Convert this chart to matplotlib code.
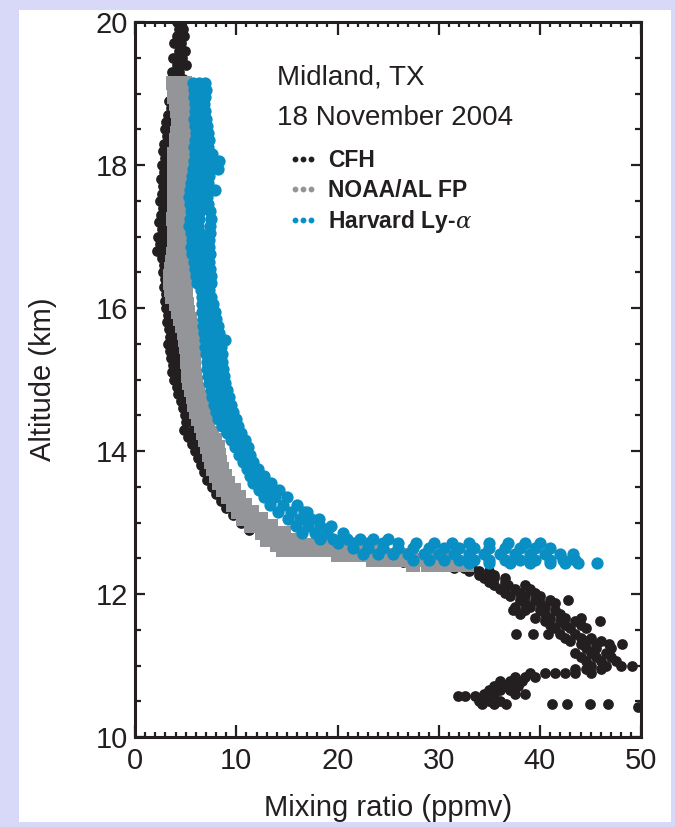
import matplotlib
matplotlib.use("Agg")
import matplotlib.pyplot as plt
from matplotlib.lines import Line2D
from matplotlib.patches import Rectangle
import numpy as np

# ---- data: altitude rows (km) and mixing ratios (ppmv) ----
cfh_levels = [20.0, 19.9, 19.8, 19.7, 19.6, 19.5, 19.4, 19.3, 19.2, 19.1,
              19.0, 18.9, 18.8, 18.7, 18.6, 18.5, 18.4, 18.3, 18.2, 18.1,
              18.0, 17.9, 17.8, 17.7, 17.6, 17.5, 17.4, 17.3, 17.2, 17.1,
              17.0, 16.9, 16.8, 16.7, 16.6, 16.5, 16.4, 16.3, 16.2, 16.1,
              16.0, 15.9, 15.8, 15.7, 15.6, 15.5, 15.4, 15.3, 15.2, 15.1,
              15.0, 14.9, 14.8, 14.7, 14.6, 14.5, 14.4, 14.3, 14.2, 14.1,
              14.0, 13.9, 13.8, 13.7, 13.6, 13.5, 13.4, 13.3, 13.2, 13.1,
              13.0, 12.9, 12.8, 12.7, 12.6, 12.55, 12.5, 12.45, 12.4,
              12.37, 12.32, 12.27, 12.22, 12.17, 12.12, 12.07, 12.02, 11.97, 11.92,
              11.87, 11.82, 11.77, 11.72, 11.67, 11.62, 11.57, 11.52, 11.44, 11.39,
              11.34, 11.3, 11.24, 11.18, 11.12, 11.06, 11.0, 10.95, 10.89, 10.84,
              10.78, 10.72, 10.66, 10.6, 10.57, 10.51, 10.46, 10.42]
cfh_values = [[4.1, 4.5], [4.3, 4.7], [4.1, 4.8], [3.9, 4.5], [4.3, 4.9],
              [3.8, 4.6], [4.1, 5.0], [3.7, 4.3], [3.9, 4.7], [3.6, 4.1],
              [3.7, 4.4], [3.4, 3.8], [3.6, 4.0], [3.3, 3.5], [3.1, 3.7],
              [3.0, 3.3], [3.2, 3.6], [2.9, 3.2], [2.8, 3.4], [3.0, 3.1],
              [2.7, 3.3], [2.9, 3.5], [2.6, 3.0], [2.8, 3.4], [2.7, 3.2],
              [2.5, 3.1], [2.8, 3.3], [2.6, 2.9], [2.4, 3.2], [2.7, 3.0],
              [2.3, 3.1], [2.5, 2.8], [2.2, 2.9], [2.7, 3.2], [2.9, 3.3],
              [2.8, 3.5], [3.0, 3.2], [2.9, 3.4], [3.1, 3.5], [3.0, 3.7],
              [3.1, 3.6], [3.3, 3.8], [3.2, 3.7], [3.4, 3.9], [3.5, 4.0],
              [3.3, 4.1], [3.5, 4.2], [3.6, 4.1], [3.8, 4.3], [3.7, 4.4],
              [3.9, 4.5], [4.1, 4.6], [4.2, 4.8], [4.5, 5.0], [4.7, 5.2],
              [4.9, 5.5], [5.0, 5.6], [4.8, 5.7], [5.2, 5.9], [5.6, 6.1],
              [5.9, 6.4], [6.2, 6.6], [6.5, 6.9], [6.8, 7.1], [7.1, 7.5],
              [7.6], [8.0], [8.5], [9.0], [9.7],
              [10.5], [11.3], [13.0], [15.0, 16.5], [17.5, 19.5],
              [20.5, 22.5], [23.5, 25.5], [26.5, 28.5], [29.0, 30.5],
              [31.5, 32.5, 33.3], [33.0, 34.0, 35.0], [34.0, 35.5], [34.5, 35.5, 36.5],
              [35.0, 36.5], [35.5, 36.8, 38.5], [36.0, 37.5, 39.0], [36.5, 38.0, 39.5],
              [37.0, 38.5, 40.0], [38.0, 39.5, 41.0, 42.8], [38.5, 40.0, 41.5],
              [37.5, 39.0, 40.5], [37.3, 38.5, 40.0, 41.5], [38.0, 40.5, 42.0],
              [39.5, 41.0, 42.5, 44.0], [40.5, 42.0, 43.5, 45.9], [41.0, 42.5, 44.0],
              [41.5, 43.0, 44.5], [37.6, 39.3, 40.8, 42.0, 43.5], [42.5, 44.0, 45.0],
              [43.0, 44.5, 46.0], [44.0, 45.5, 46.8, 48.1], [44.5, 45.5, 47.0],
              [43.5, 45.0, 46.5], [44.0, 45.5, 47.0], [44.5, 46.0, 47.5],
              [45.0, 46.5, 48.0, 49.1], [43.5, 44.5, 46.0],
              [39.0, 40.5, 41.5, 42.5, 43.5, 45.0], [37.5, 38.5, 39.5],
              [36.0, 37.0, 38.2], [35.5, 36.5, 37.8], [35.0, 36.0, 37.0],
              [34.5, 35.5, 37.5, 38.5], [31.9, 32.6, 33.6], [34.0, 35.0, 36.0],
              [34.3, 35.5, 36.6, 41.2, 42.7, 44.9, 46.7], [49.7]]

noaa_levels = [19.15, 19.05, 18.95, 18.85, 18.75, 18.65, 18.55, 18.45, 18.35, 18.25,
               18.15, 18.05, 17.95, 17.85, 17.75, 17.65, 17.55, 17.45, 17.35, 17.25,
               17.15, 17.05, 16.95, 16.85, 16.75, 16.65, 16.55, 16.45, 16.35, 16.25,
               16.15, 16.05, 15.95, 15.85, 15.75, 15.65, 15.55, 15.45, 15.35, 15.25,
               15.15, 15.05, 14.95, 14.85, 14.75, 14.65, 14.55, 14.45, 14.35, 14.25,
               14.15, 14.05, 13.95, 13.85, 13.75, 13.65, 13.55, 13.45, 13.35, 13.25,
               13.15, 13.05, 12.95, 12.85, 12.75, 12.68, 12.61, 12.54, 12.47, 12.4]
noaa_values = [[3.8, 4.4, 4.9], [3.9, 4.4, 4.9], [3.9, 4.4, 4.8], [4.0, 4.5, 4.9],
               [4.1, 4.5, 5.0], [4.2, 4.6, 4.9], [4.2, 4.6, 5.0], [4.1, 4.6, 5.1],
               [4.0, 4.6, 5.2], [4.0, 4.6, 5.2], [3.9, 4.6, 5.3], [3.9, 4.6, 5.3],
               [3.9, 4.5, 5.2], [4.0, 4.5, 5.1], [3.9, 4.5, 5.1], [3.9, 4.4, 5.0],
               [3.9, 4.4, 5.0], [3.9, 4.4, 5.0], [3.9, 4.4, 5.0], [3.8, 4.4, 5.0],
               [3.9, 4.4, 5.0], [3.9, 4.4, 4.9], [3.9, 4.4, 4.9], [3.9, 4.4, 4.9],
               [3.8, 4.3, 4.9], [3.7, 4.2, 4.8], [3.6, 4.2, 4.8], [3.5, 4.1, 4.8],
               [3.5, 4.1, 4.9], [3.6, 4.3, 5.0], [3.7, 4.4, 5.0],
               [4.0, 4.5, 5.1], [4.2, 4.7, 5.2], [4.4, 4.9, 5.4], [4.6, 5.0, 5.5],
               [4.8, 5.2, 5.6], [4.9, 5.3, 5.7], [5.0, 5.3, 5.7], [5.1, 5.4, 5.8],
               [5.1, 5.4, 5.8], [5.2, 5.5, 5.8], [5.2, 5.5, 5.9], [5.3, 5.6, 6.0],
               [5.5, 5.8, 6.2], [5.7, 6.0, 6.4], [5.8, 6.2, 6.6], [6.0, 6.4, 6.8],
               [6.2, 6.6, 7.0], [6.5, 6.8, 7.2], [6.7, 7.1, 7.6], [6.9, 7.4, 7.9],
               [7.1, 7.6, 8.2], [7.3, 7.8, 8.3], [7.5, 7.9, 8.4], [7.7, 8.1, 8.6],
               [8.0, 8.4, 8.9], [8.3, 8.7, 9.2], [8.7, 9.2, 9.8], [9.2, 9.7, 10.3],
               [9.7, 10.3, 10.9], [10.2, 10.9, 11.6], [10.7, 11.6, 12.4],
               [11.5, 12.4, 13.4], [12.5, 13.6, 14.7], [13.0, 14.2, 15.4],
               [14.0, 15.4, 16.8, 18.2, 19.6],
               [14.6, 16.0, 17.4, 18.8, 20.2, 21.6, 23.0, 24.4],
               [20.0, 21.4, 22.8, 24.2, 25.6, 27.0],
               [23.5, 24.9, 26.3, 27.7, 29.1, 30.5],
               [27.5, 28.9, 30.3, 31.7, 32.8]]

harv_levels = [19.15, 19.05, 18.95, 18.85, 18.75, 18.65, 18.55, 18.45, 18.35, 18.25,
               18.15, 18.05, 17.95, 17.85, 17.75, 17.65, 17.55, 17.45, 17.35, 17.25,
               17.15, 17.05, 16.95, 16.85, 16.75, 16.65, 16.55, 16.45, 16.35, 16.25,
               16.15, 16.05, 15.95, 15.85, 15.75, 15.65, 15.55, 15.45, 15.35, 15.25,
               15.15, 15.05, 14.95, 14.85, 14.75, 14.65, 14.55, 14.45, 14.35, 14.25,
               14.15, 14.05, 13.95, 13.85, 13.75, 13.65, 13.55, 13.45, 13.35, 13.25,
               13.15, 13.05, 12.95, 12.85, 12.77, 12.72, 12.64, 12.56, 12.48, 12.43]
harv_values = [[5.7, 6.3, 6.9], [5.8, 6.4, 7.0], [5.8, 6.4, 6.9], [5.9, 6.4, 6.8],
               [5.9, 6.5, 6.9], [5.8, 6.4, 7.0], [5.9, 6.5, 7.1], [6.0, 6.6, 7.2],
               [5.9, 6.6, 7.3], [5.8, 6.5, 7.2], [5.9, 6.8, 7.6], [5.8, 6.8, 7.9, 8.3],
               [5.7, 6.6, 7.5, 8.2], [5.6, 6.5, 7.3], [5.5, 6.4, 7.2], [5.4, 6.3, 7.3, 7.9],
               [5.3, 6.2, 7.1], [5.4, 6.3, 7.2], [5.5, 6.4, 7.4], [5.4, 6.3, 7.5],
               [5.3, 6.2, 7.4], [5.5, 6.4, 7.4], [5.6, 6.4, 7.3], [5.5, 6.4, 7.3],
               [5.6, 6.5, 7.4], [5.8, 6.6, 7.3], [5.9, 6.6, 7.4], [6.0, 6.7, 7.5],
               [6.1, 6.8, 7.5], [6.5, 7.0, 7.3],
               [6.6, 7.0, 7.5], [6.6, 7.1, 7.7], [6.6, 7.2, 7.9], [6.7, 7.3, 8.0],
               [6.7, 7.4, 8.2], [6.8, 7.5, 8.3], [6.9, 7.6, 8.4, 8.9], [6.9, 7.7, 8.5],
               [7.0, 7.8, 8.6], [7.1, 7.8, 8.6], [7.1, 7.9, 8.7], [7.2, 8.0, 8.8],
               [7.3, 8.1, 8.9], [7.5, 8.3, 9.1], [7.6, 8.5, 9.3], [7.8, 8.7, 9.5],
               [8.0, 8.9, 9.7], [8.2, 9.1, 10.0], [8.6, 9.4, 10.2], [9.1, 9.8, 10.5],
               [9.5, 10.2, 10.9], [9.9, 10.6, 11.2], [10.3, 10.9, 11.4], [10.7, 11.2, 11.7],
               [11.1, 11.6, 12.1], [11.4, 12.0, 12.7], [11.7, 12.5, 13.4], [12.2, 13.1, 14.2],
               [12.7, 13.8, 15.0], [13.3, 14.6, 16.0], [14.1, 15.4, 16.7, 17.0],
               [15.1, 16.3, 17.4, 18.2], [15.9, 17.1, 18.3, 19.4], [16.5, 17.8, 19.0, 20.5],
               [18.3, 19.6, 20.9, 22.2, 23.5, 25.0],
               [20.0, 21.5, 23.0, 24.5, 26.0, 27.8, 29.5, 31.3, 33.0, 35.0, 36.8, 38.5, 40.0],
               [21.5, 23.0, 24.5, 26.0, 27.5, 29.0, 30.5, 32.0, 33.5, 35.0, 36.5, 38.0,
                39.5, 41.0],
               [22.5, 24.0, 25.5, 27.0, 28.5, 30.0, 31.5, 33.0, 34.5, 36.0, 37.5, 39.0,
                40.5, 42.0, 43.3],
               [27.5, 29.0, 30.5, 32.0, 33.5, 35.0, 36.5, 38.0, 39.5, 41.0, 42.3, 43.5],
               [33.0, 35.0, 37.0, 39.0, 41.0, 42.5, 43.8, 45.6]]

labels = ["CFH", "NOAA/AL FP", "Harvard Ly-$\\alpha$"]
colors = ["#231f20", "#939598", "#0a8fc4"]


def expand(levels, values):
    alt, ppmv = [], []
    for lev, row in zip(levels, values):
        for v in row:
            alt.append(lev)
            ppmv.append(v)
    return np.array(ppmv), np.array(alt)


def main():
    plt.rcParams["font.family"] = ["Liberation Sans", "DejaVu Sans"]
    plt.rcParams["mathtext.fontset"] = "custom"
    plt.rcParams["mathtext.it"] = "DejaVu Serif:italic"
    txt = "#231f20"

    fig = plt.figure(figsize=(6.75, 8.27), dpi=100, facecolor="#d8d8f8")
    fig.patches.append(Rectangle((19 / 675, 5 / 827), 652 / 675, 812 / 827,
                                 transform=fig.transFigure, facecolor="white",
                                 edgecolor="none", zorder=-1))
    ax = fig.add_axes([0.2, 0.1088, 0.75, 0.8646])

    x, y = expand(cfh_levels, cfh_values)
    ax.scatter(x, y, s=60, color=colors[0], linewidths=0, zorder=2)
    x, y = expand(noaa_levels, noaa_values)
    ax.scatter(x, y, s=92, marker="s", color=colors[1], linewidths=0, zorder=3)
    x, y = expand(harv_levels, harv_values)
    ax.scatter(x, y, s=78, color=colors[2], linewidths=0, zorder=4)

    ax.set_xlim(0, 50)
    ax.set_ylim(10, 20)
    ax.set_xticks(np.arange(0, 51, 10))
    ax.set_xticks(np.arange(0, 51, 1), minor=True)
    ax.set_yticks(np.arange(10, 21, 2))
    ax.set_yticks(np.arange(10, 20.1, 0.5), minor=True)

    for s in ax.spines.values():
        s.set_linewidth(2.2)
        s.set_color(txt)
        s.set_zorder(6)
    ax.tick_params(which="both", direction="in", top=True, right=True,
                   color=txt, labelcolor=txt, labelsize=21, width=1.6)
    ax.tick_params(axis="x", which="major", length=9, pad=7)
    ax.tick_params(axis="x", which="minor", length=3.6)
    ax.tick_params(axis="y", which="major", length=7.5, pad=5)
    ax.tick_params(axis="y", which="minor", length=4.5)

    ax.set_xlabel("Mixing ratio (ppmv)", fontsize=21, color=txt, labelpad=14)
    ax.set_ylabel("Altitude (km)", fontsize=21, color=txt, labelpad=28)

    ax.text(0.281, 0.922, "Midland, TX", transform=ax.transAxes, fontsize=20,
            color=txt, va="center", ha="left")
    ax.text(0.281, 0.866, "18 November 2004", transform=ax.transAxes, fontsize=20,
            color=txt, va="center", ha="left")

    handles = [Line2D([], [], ls="none", marker="o", ms=4.2, mew=0, color=c)
               for c in colors]
    leg = ax.legend(handles, labels, loc="upper left", bbox_to_anchor=(0.302, 0.822),
                    frameon=False, numpoints=3, handlelength=1.3, handletextpad=0.45,
                    labelspacing=0.28, borderpad=0, borderaxespad=0,
                    prop={"size": 16.5, "weight": "bold"})
    for t in leg.get_texts():
        t.set_color(txt)

    fig.savefig("out.png", dpi=100, facecolor=fig.get_facecolor())


if __name__ == "__main__":
    main()
